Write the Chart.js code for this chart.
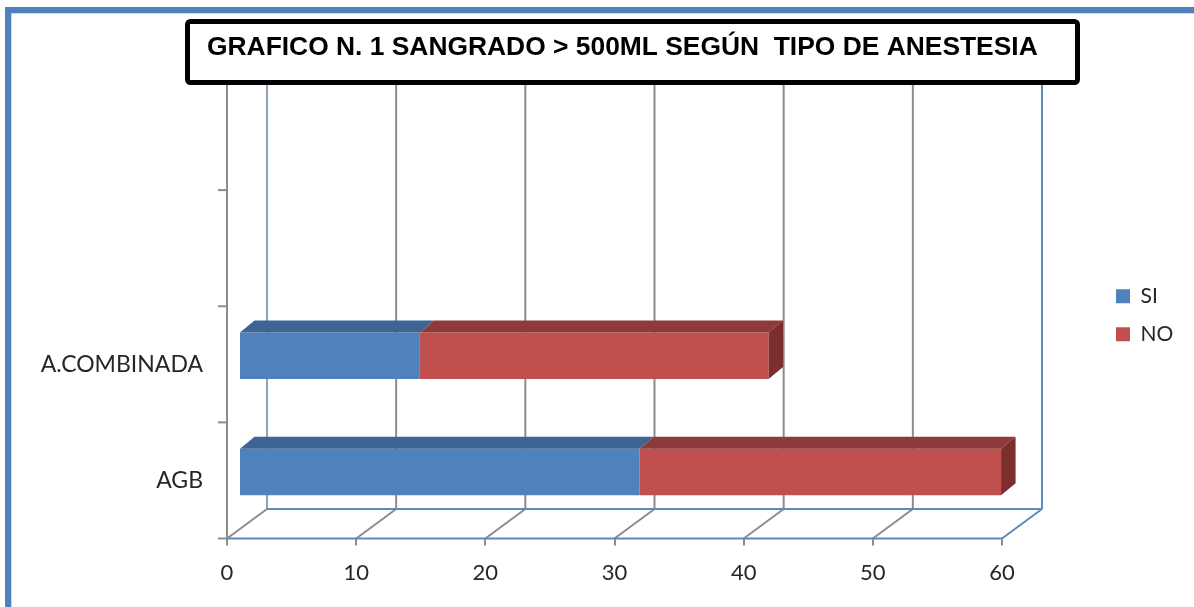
<!DOCTYPE html>
<html>
<head>
<meta charset="utf-8">
<script src="https://cdn.jsdelivr.net/npm/chart.js@4.4.1/dist/chart.umd.min.js"></script>
<style>
  html, body { margin: 0; padding: 0; background: #fff; }
  canvas { display: block; }
</style>
</head>
<body>
<canvas id="chart" width="1194" height="607"></canvas>
<script>
// Categories run bottom-up; the two upper rows are empty slots of the 3-D frame.
const categories = ['AGB', 'A.COMBINADA', '', ''];
const seriesNames = ['SI', 'NO'];
const siValues = [31, 14, null, null];
const noValues = [28, 27, null, null];
const xTickValues = [0, 10, 20, 30, 40, 50, 60];
const chartTitle = 'GRAFICO N. 1 SANGRADO > 500ML SEGÚN  TIPO DE ANESTESIA';

const FRONT = ['#4F81BD', '#C0504D'];
const TOP_FACE = ['#3C6593', '#8E3A38'];
const SIDE_FACE = ['#2F5078', '#7B2E2C'];
const WALL = { dx: 40, dy: -29.5 };      // back wall offset from the front plane
const BAR_SHIFT = { dx: 12, dy: -8.5 };  // bar front face sits a little into the depth
const BAR_DEPTH = { dx: 14.5, dy: -12 }; // thickness of each bar
const TEXT = '#262626';
const GRID = '#8C8C8C';
const EDGE = '#5F87C0';
const FONT = 'Lato, "Open Sans", sans-serif';

function strokeLine(ctx, x1, y1, x2, y2) {
  ctx.beginPath();
  ctx.moveTo(x1, y1);
  ctx.lineTo(x2, y2);
  ctx.stroke();
}

function fillPoly(ctx, pts, color) {
  ctx.beginPath();
  ctx.moveTo(pts[0][0], pts[0][1]);
  for (let i = 1; i < pts.length; i++) ctx.lineTo(pts[i][0], pts[i][1]);
  ctx.closePath();
  ctx.fillStyle = color;
  ctx.fill();
}

// Page border, back wall, floor, category axis and the boxed title.
const framePlugin = {
  id: 'frame3d',
  beforeDraw(chart) {
    const { ctx, width, height } = chart;
    const xs = chart.scales.x, ys = chart.scales.y;
    ctx.save();
    ctx.fillStyle = '#fff';
    ctx.fillRect(0, 0, width, height);

    ctx.strokeStyle = '#4F81BD';
    ctx.lineWidth = 6;
    ctx.beginPath();
    ctx.moveTo(8, height + 5);
    ctx.lineTo(8, 10);
    ctx.lineTo(width + 5, 10);
    ctx.stroke();
    ctx.strokeStyle = '#C9D8EC';
    ctx.lineWidth = 1;
    ctx.beginPath();
    ctx.moveTo(11.5, height);
    ctx.lineTo(11.5, 13.5);
    ctx.lineTo(width, 13.5);
    ctx.stroke();

    const top = ys.top, bot = ys.bottom;
    const x0 = xs.getPixelForValue(xs.min), x1 = xs.getPixelForValue(xs.max);
    ctx.lineWidth = 2;
    xTickValues.forEach(v => {
      const px = xs.getPixelForValue(v);
      const isEnd = v === xs.max;
      ctx.strokeStyle = isEnd ? EDGE : (v === xs.min ? '#8FA2BD' : GRID);
      strokeLine(ctx, px + WALL.dx, top + WALL.dy, px + WALL.dx, bot + WALL.dy);
      ctx.strokeStyle = isEnd ? EDGE : GRID;
      strokeLine(ctx, px, bot, px + WALL.dx, bot + WALL.dy);
    });
    ctx.strokeStyle = EDGE;
    strokeLine(ctx, x0 + WALL.dx, bot + WALL.dy, x1 + WALL.dx, bot + WALL.dy);
    strokeLine(ctx, x0, bot, x1, bot);

    ctx.strokeStyle = GRID;
    strokeLine(ctx, x0, top, x0, bot);
    const n = categories.length;
    for (let i = 0; i <= n; i++) {
      const y = top + (bot - top) * i / n;
      strokeLine(ctx, x0 - 9, y, x0, y);
    }

    // title frame
    ctx.fillStyle = '#fff';
    ctx.strokeStyle = '#000';
    ctx.lineWidth = 5;
    ctx.beginPath();
    ctx.roundRect(187.5, 21.5, 890, 61, 3);
    ctx.fill();
    ctx.stroke();
    ctx.fillStyle = '#000';
    ctx.font = 'bold 26.4px "Liberation Sans", Arial, sans-serif';
    ctx.textAlign = 'left';
    ctx.textBaseline = 'alphabetic';
    ctx.fillText(chartTitle, 207, 55);
    ctx.restore();
  },
  afterLayout(chart) {
    const lg = chart.legend;
    if (!lg) return;
    const w = lg.width;
    lg.left = chart.chartArea.right + 97;
    lg.right = lg.left + w;
    lg.top += 83;
    lg.bottom += 83;
  }
};

// Pushes the bars into the depth and adds their top and end faces.
const depthPlugin = {
  id: 'barDepth',
  beforeDatasetsDraw(chart) {
    chart.ctx.save();
    chart.ctx.translate(BAR_SHIFT.dx, BAR_SHIFT.dy);
  },
  afterDatasetsDraw(chart) {
    const ctx = chart.ctx;
    const metas = chart.getSortedVisibleDatasetMetas();
    categories.forEach((c, i) => {
      let lastK = -1;
      metas.forEach((m, k) => {
        if (chart.data.datasets[m.index].data[i] != null) lastK = k;
      });
      metas.forEach((m, k) => {
        const val = chart.data.datasets[m.index].data[i];
        if (val == null) return;
        const el = m.data[i];
        const { x, y, base, height } = el.getProps(['x', 'y', 'base', 'height'], true);
        const l = Math.min(x, base), r = Math.max(x, base);
        const t = y - height / 2, b = y + height / 2;
        const dx = BAR_DEPTH.dx, dy = BAR_DEPTH.dy;
        fillPoly(ctx, [[l, t], [l + dx, t + dy], [r + dx, t + dy], [r, t]], TOP_FACE[m.index]);
        if (k === lastK) {
          fillPoly(ctx, [[r, t], [r + dx, t + dy], [r + dx, b + dy], [r, b]], SIDE_FACE[m.index]);
        }
      });
    });
    ctx.restore();
  }
};

new Chart(document.getElementById('chart'), {
  type: 'bar',
  data: {
    labels: categories,
    datasets: [
      { label: seriesNames[0], data: siValues, backgroundColor: FRONT[0], borderWidth: 0,
        barPercentage: 0.5, categoryPercentage: 0.8, clip: false },
      { label: seriesNames[1], data: noValues, backgroundColor: FRONT[1], borderWidth: 0,
        barPercentage: 0.5, categoryPercentage: 0.8, clip: false }
    ]
  },
  options: {
    indexAxis: 'y',
    responsive: false,
    animation: false,
    layout: { padding: { left: 0, top: 74, right: 192, bottom: 0 } },
    scales: {
      x: {
        type: 'linear',
        stacked: true,
        min: 0,
        max: 60,
        afterBuildTicks(scale) { scale.ticks = xTickValues.map(v => ({ value: v })); },
        afterFit(scale) { scale.height = 68.5; },
        grid: { display: true, drawOnChartArea: false, drawTicks: true, tickLength: 7,
                color: GRID, lineWidth: 2 },
        border: { display: false },
        ticks: { padding: 14, color: TEXT, font: { family: FONT, size: 22 } }
      },
      y: {
        type: 'category',
        stacked: true,
        reverse: true,
        afterFit(scale) { scale.width = 227; },
        grid: { display: false, drawTicks: false },
        border: { display: false },
        ticks: { padding: 24, color: TEXT, font: { family: FONT, size: 23 } }
      }
    },
    plugins: {
      title: { display: false },
      tooltip: { enabled: false },
      legend: {
        position: 'chartArea',
        align: 'center',
        labels: { boxWidth: 14, boxHeight: 14, padding: 17, color: TEXT,
                  font: { family: FONT, size: 21 } }
      }
    }
  },
  plugins: [framePlugin, depthPlugin]
});
</script>
</body>
</html>
